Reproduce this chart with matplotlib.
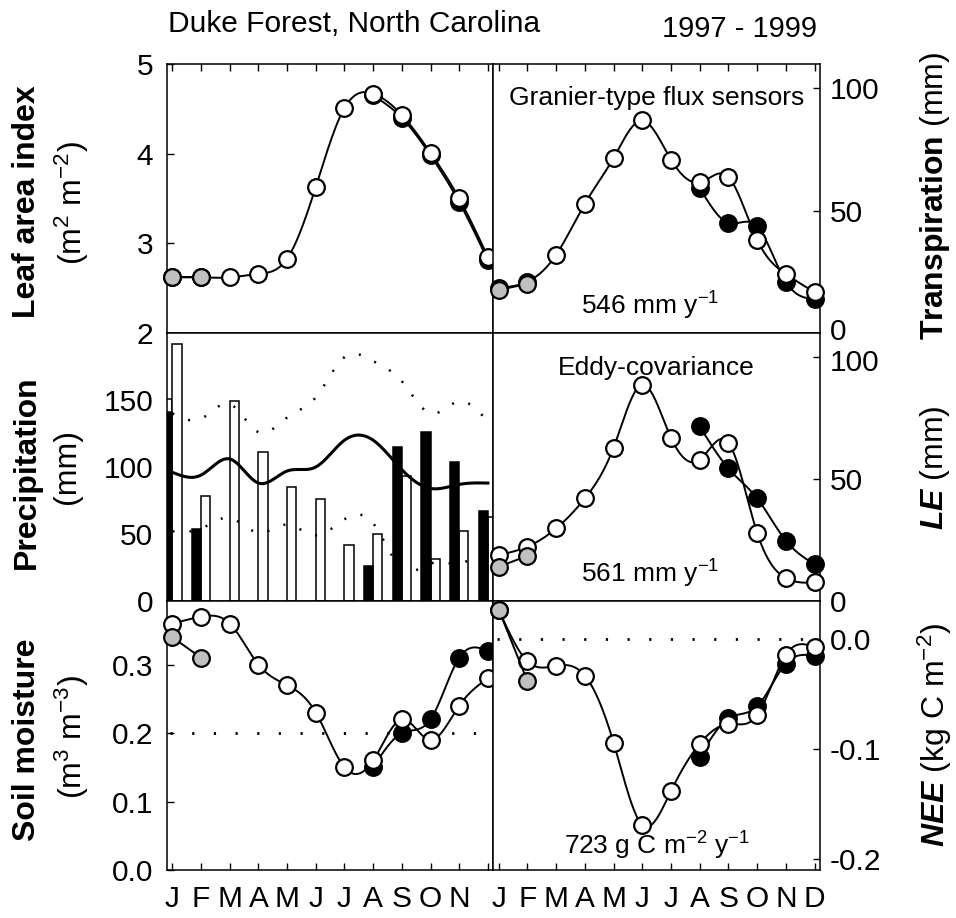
import numpy as np
import matplotlib
matplotlib.use('Agg')
import matplotlib.pyplot as plt
from matplotlib.ticker import FormatStrFormatter
from matplotlib.transforms import ScaledTranslation

plt.rcParams['font.family'] = ['Liberation Sans', 'DejaVu Sans']
plt.rcParams['mathtext.fontset'] = 'custom'
plt.rcParams['mathtext.rm'] = 'Liberation Sans'
plt.rcParams['mathtext.it'] = 'Liberation Sans:italic'
plt.rcParams['mathtext.bf'] = 'Liberation Sans:bold'
plt.rcParams['mathtext.bfit'] = 'Liberation Sans:italic:bold'
plt.rcParams['axes.unicode_minus'] = False

# data

months = np.arange(1, 13)
month_lbl = ['J', 'F', 'M', 'A', 'M', 'J', 'J', 'A', 'S', 'O', 'N', 'D']
m_black = [8, 9, 10, 11, 12]
m_gray = [1, 2]

lai_white = [2.62, 2.62, 2.62, 2.66, 2.83, 3.63, 4.51, 4.67, 4.43, 4.01, 3.50, 2.85]
lai_black = [4.65, 4.40, 3.98, 3.46, 2.81]
lai_gray = [2.62, 2.62]

tr_white = [18.5, 21.0, 32.0, 52.9, 71.6, 86.9, 70.9, 61.6, 63.8, 38.1, 24.1, 16.7]
tr_black = [59.3, 45.0, 43.6, 21.0, 13.8]
tr_gray = [17.6, 20.1]

le_white = [18.9, 22.3, 29.8, 42.1, 63.0, 88.8, 67.0, 58.0, 65.0, 28.0, 9.4, 7.6]
le_black = [71.7, 54.4, 42.1, 24.8, 15.1]
le_gray = [14.1, 18.5]

sm_white = [0.36, 0.37, 0.36, 0.30, 0.27, 0.23, 0.15, 0.16, 0.22, 0.19, 0.24, 0.28]
sm_black = [0.15, 0.20, 0.22, 0.31, 0.32]
sm_gray = [0.34, 0.31]

nee_white = [0.027, -0.020, -0.024, -0.033, -0.094, -0.169, -0.138, -0.095, -0.077, -0.069, -0.014, -0.007]
nee_black = [-0.107, -0.072, -0.061, -0.022, -0.015]
nee_gray = [0.027, -0.038]

# precipitation bars
pr_white = [192, 78, 149, 111, 85, 76, 42, 50, 93, 31, 52, 63]
pr_black_m = [1, 2, 8, 9, 10, 11, 12]
pr_black = [141, 54, 26, 115, 126, 104, 67]
pr_hidden_m = [1]
pr_hidden = [151]
# long-term mean and envelope
pr_mean = [96, 94, 106, 88, 97, 100, 120, 120, 98, 84, 87, 88]
pr_upper = [140, 136, 147, 126, 137, 152, 182, 179, 164, 140, 149, 134]
pr_lower = [52, 54, 62, 51, 57, 49, 61, 58, 24, 28, 28, 40]


def spline(x, y, n=25):
    x = np.asarray(x, float)
    y = np.asarray(y, float)
    k = len(x)
    if k < 3:
        return x, y
    h = np.diff(x)
    A = np.zeros((k, k))
    b = np.zeros(k)
    A[0, 0] = A[-1, -1] = 1.0
    for i in range(1, k - 1):
        A[i, i - 1] = h[i - 1]
        A[i, i] = 2 * (h[i - 1] + h[i])
        A[i, i + 1] = h[i]
        b[i] = 6 * ((y[i + 1] - y[i]) / h[i] - (y[i] - y[i - 1]) / h[i - 1])
    M = np.linalg.solve(A, b)
    xs, ys = [], []
    for i in range(k - 1):
        t = np.linspace(x[i], x[i + 1], n)
        hi = h[i]
        s = (M[i] * (x[i + 1] - t)**3 / (6 * hi) + M[i + 1] * (t - x[i])**3 / (6 * hi)
             + (y[i] / hi - M[i] * hi / 6) * (x[i + 1] - t)
             + (y[i + 1] / hi - M[i + 1] * hi / 6) * (t - x[i]))
        xs.append(t)
        ys.append(s)
    return np.concatenate(xs), np.concatenate(ys)


def series(ax, x, y, face, z):
    xs, ys = spline(x, y)
    ax.plot(xs, ys, color='black', lw=1.4, zorder=z)
    ax.plot(x, y, ls='none', marker='o', ms=12, mfc=face, mec='black',
            mew=1.6, zorder=z + 0.5, clip_on=False)


def nudge(label, dy_px):
    label.set_transform(label.get_transform() +
                        ScaledTranslation(0, dy_px / 100.0, fig.dpi_scale_trans))


fig = plt.figure(figsize=(9.56, 9.18), dpi=100)
W, H = 956.0, 918.0
xl, wl = 167 / W, 326.3 / W
xr, wr = 493.3 / W, 326.7 / W
rows = [(64, 333), (333, 601), (601, 870)]


def rect(x0, w, r):
    t, b = rows[r]
    return [x0, 1 - b / H, w, (b - t) / H]


axes = {}
for r in range(3):
    axes[(r, 0)] = fig.add_axes(rect(xl, wl, r))
    axes[(r, 1)] = fig.add_axes(rect(xr, wr, r))

TS = 21.5
for (r, c), ax in axes.items():
    ax.set_xlim(0.81, 12.19)
    ax.set_xticks(months)
    for sp in ax.spines.values():
        sp.set_linewidth(1.1)
    ax.tick_params(axis='x', direction='in', length=5, width=1.0,
                   top=(r == 0), bottom=(r == 2), labelbottom=(r == 2),
                   labelsize=TS, pad=11)
    if r == 2:
        if c == 0:
            ax.set_xticklabels(month_lbl[:11] + [''])
        else:
            ax.set_xticklabels(month_lbl)
    if c == 0:
        ax.tick_params(axis='y', direction='in', length=5, width=1.0,
                       left=True, right=False, labelsize=TS, pad=10)
    else:
        ax.yaxis.tick_right()
        ax.tick_params(axis='y', direction='in', length=5, width=1.0,
                       left=False, right=True, labelsize=TS, pad=7)

# leaf area index
ax = axes[(0, 0)]
ax.set_ylim(2, 5)
ax.set_yticks([2, 3, 4, 5])
series(ax, m_black, lai_black, 'black', 3)
series(ax, months, lai_white, 'white', 4)
series(ax, m_gray, lai_gray, '#c0c0c0', 5)

# transpiration
ax = axes[(0, 1)]
ax.set_ylim(0, 110)
ax.set_yticks([0, 50, 100])
series(ax, m_black, tr_black, 'black', 3)
series(ax, months, tr_white, 'white', 4)
series(ax, m_gray, tr_gray, '#c0c0c0', 5)
ax.text(0.5, 0.875, 'Granier-type flux sensors', transform=ax.transAxes,
        ha='center', va='center', fontsize=19)
ax.text(0.48, 0.1, r'546 mm y$^{-1}$', transform=ax.transAxes,
        ha='center', va='center', fontsize=19)
nudge(ax.get_yticklabels()[0], 4)

# precipitation
ax = axes[(1, 0)]
ax.set_ylim(0, 200)
ax.set_yticks([0, 50, 100, 150])
bw = 0.325
ax.bar(pr_hidden_m, pr_hidden, width=-bw, align='edge', color='white',
       edgecolor='black', lw=1.1, zorder=2)
ax.bar(months, pr_white, width=bw, align='edge', color='white',
       edgecolor='black', lw=1.1, zorder=2)
ax.bar(pr_black_m, pr_black, width=-bw, align='edge', color='black',
       edgecolor='black', lw=1.1, zorder=3)
xs, ys = spline(months, pr_mean)
ax.plot(xs, ys, color='black', lw=2.2, zorder=4)
for env in (pr_upper, pr_lower):
    xs, ys = spline(months, env)
    ax.plot(xs, ys, color='black', lw=1.8, ls=(0, (0.8, 6)), zorder=4)

# LE
ax = axes[(1, 1)]
ax.set_ylim(0, 110)
ax.set_yticks([0, 50, 100])
series(ax, m_black, le_black, 'black', 3)
series(ax, months, le_white, 'white', 4)
series(ax, m_gray, le_gray, '#c0c0c0', 5)
ax.text(0.5, 0.87, 'Eddy-covariance', transform=ax.transAxes,
        ha='center', va='center', fontsize=19)
ax.text(0.48, 0.1, r'561 mm y$^{-1}$', transform=ax.transAxes,
        ha='center', va='center', fontsize=19)
nudge(ax.get_yticklabels()[2], -3)

# soil moisture
ax = axes[(2, 0)]
ax.set_ylim(0, 0.393)
ax.set_yticks([0.0, 0.1, 0.2, 0.3])
ax.yaxis.set_major_formatter(FormatStrFormatter('%.1f'))
ax.axhline(0.2, xmin=0.01, xmax=0.99, color='black', lw=2,
           ls=(0, (0.8, 7)), zorder=1)
series(ax, m_black, sm_black, 'black', 3)
series(ax, months, sm_white, 'white', 4)
series(ax, m_gray, sm_gray, '#c0c0c0', 5)

# NEE
ax = axes[(2, 1)]
ax.set_ylim(-0.21, 0.035)
ax.set_yticks([0.0, -0.1, -0.2])
ax.yaxis.set_major_formatter(FormatStrFormatter('%.1f'))
ax.axhline(0.0, xmin=0.01, xmax=0.99, color='black', lw=2,
           ls=(0, (0.8, 7)), zorder=1)
series(ax, m_black, nee_black, 'black', 3)
series(ax, months, nee_white, 'white', 4)
series(ax, m_gray, nee_gray, '#c0c0c0', 5)
ax.text(0.5, 0.09, r'723 g C m$^{-2}$ y$^{-1}$', transform=ax.transAxes,
        ha='center', va='center', fontsize=19)

# axis titles
LS = 23
def ylab(x, y, s, **kw):
    fig.text(x / W, 1 - y / H, s, rotation=90, ha='center', va='center',
             fontsize=LS, **kw)

ylab(27, 202, 'Leaf area index', fontweight='bold')
ylab(72, 203, r'(m$^{2}$ m$^{-2}$)')
ylab(27, 472, 'Precipitation', fontweight='bold')
ylab(67, 467, '(mm)')
ylab(27, 740, 'Soil moisture', fontweight='bold')
ylab(72, 737, r'(m$^{3}$ m$^{-3}$)')

ylab(935, 196, r'$\mathbf{Transpiration}$ (mm)')
ylab(935, 468, r'$\mathbfit{LE}$ (mm)')
ylab(935, 735, r'$\mathbfit{NEE}$ (kg C m$^{-2}$)')

fig.text(168 / W, 1 - 32 / H, 'Duke Forest, North Carolina', fontsize=21.5,
         ha='left', va='baseline')
fig.text(817 / W, 1 - 37 / H, '1997 - 1999', fontsize=21,
         ha='right', va='baseline')

fig.savefig('out.png', dpi=100)
